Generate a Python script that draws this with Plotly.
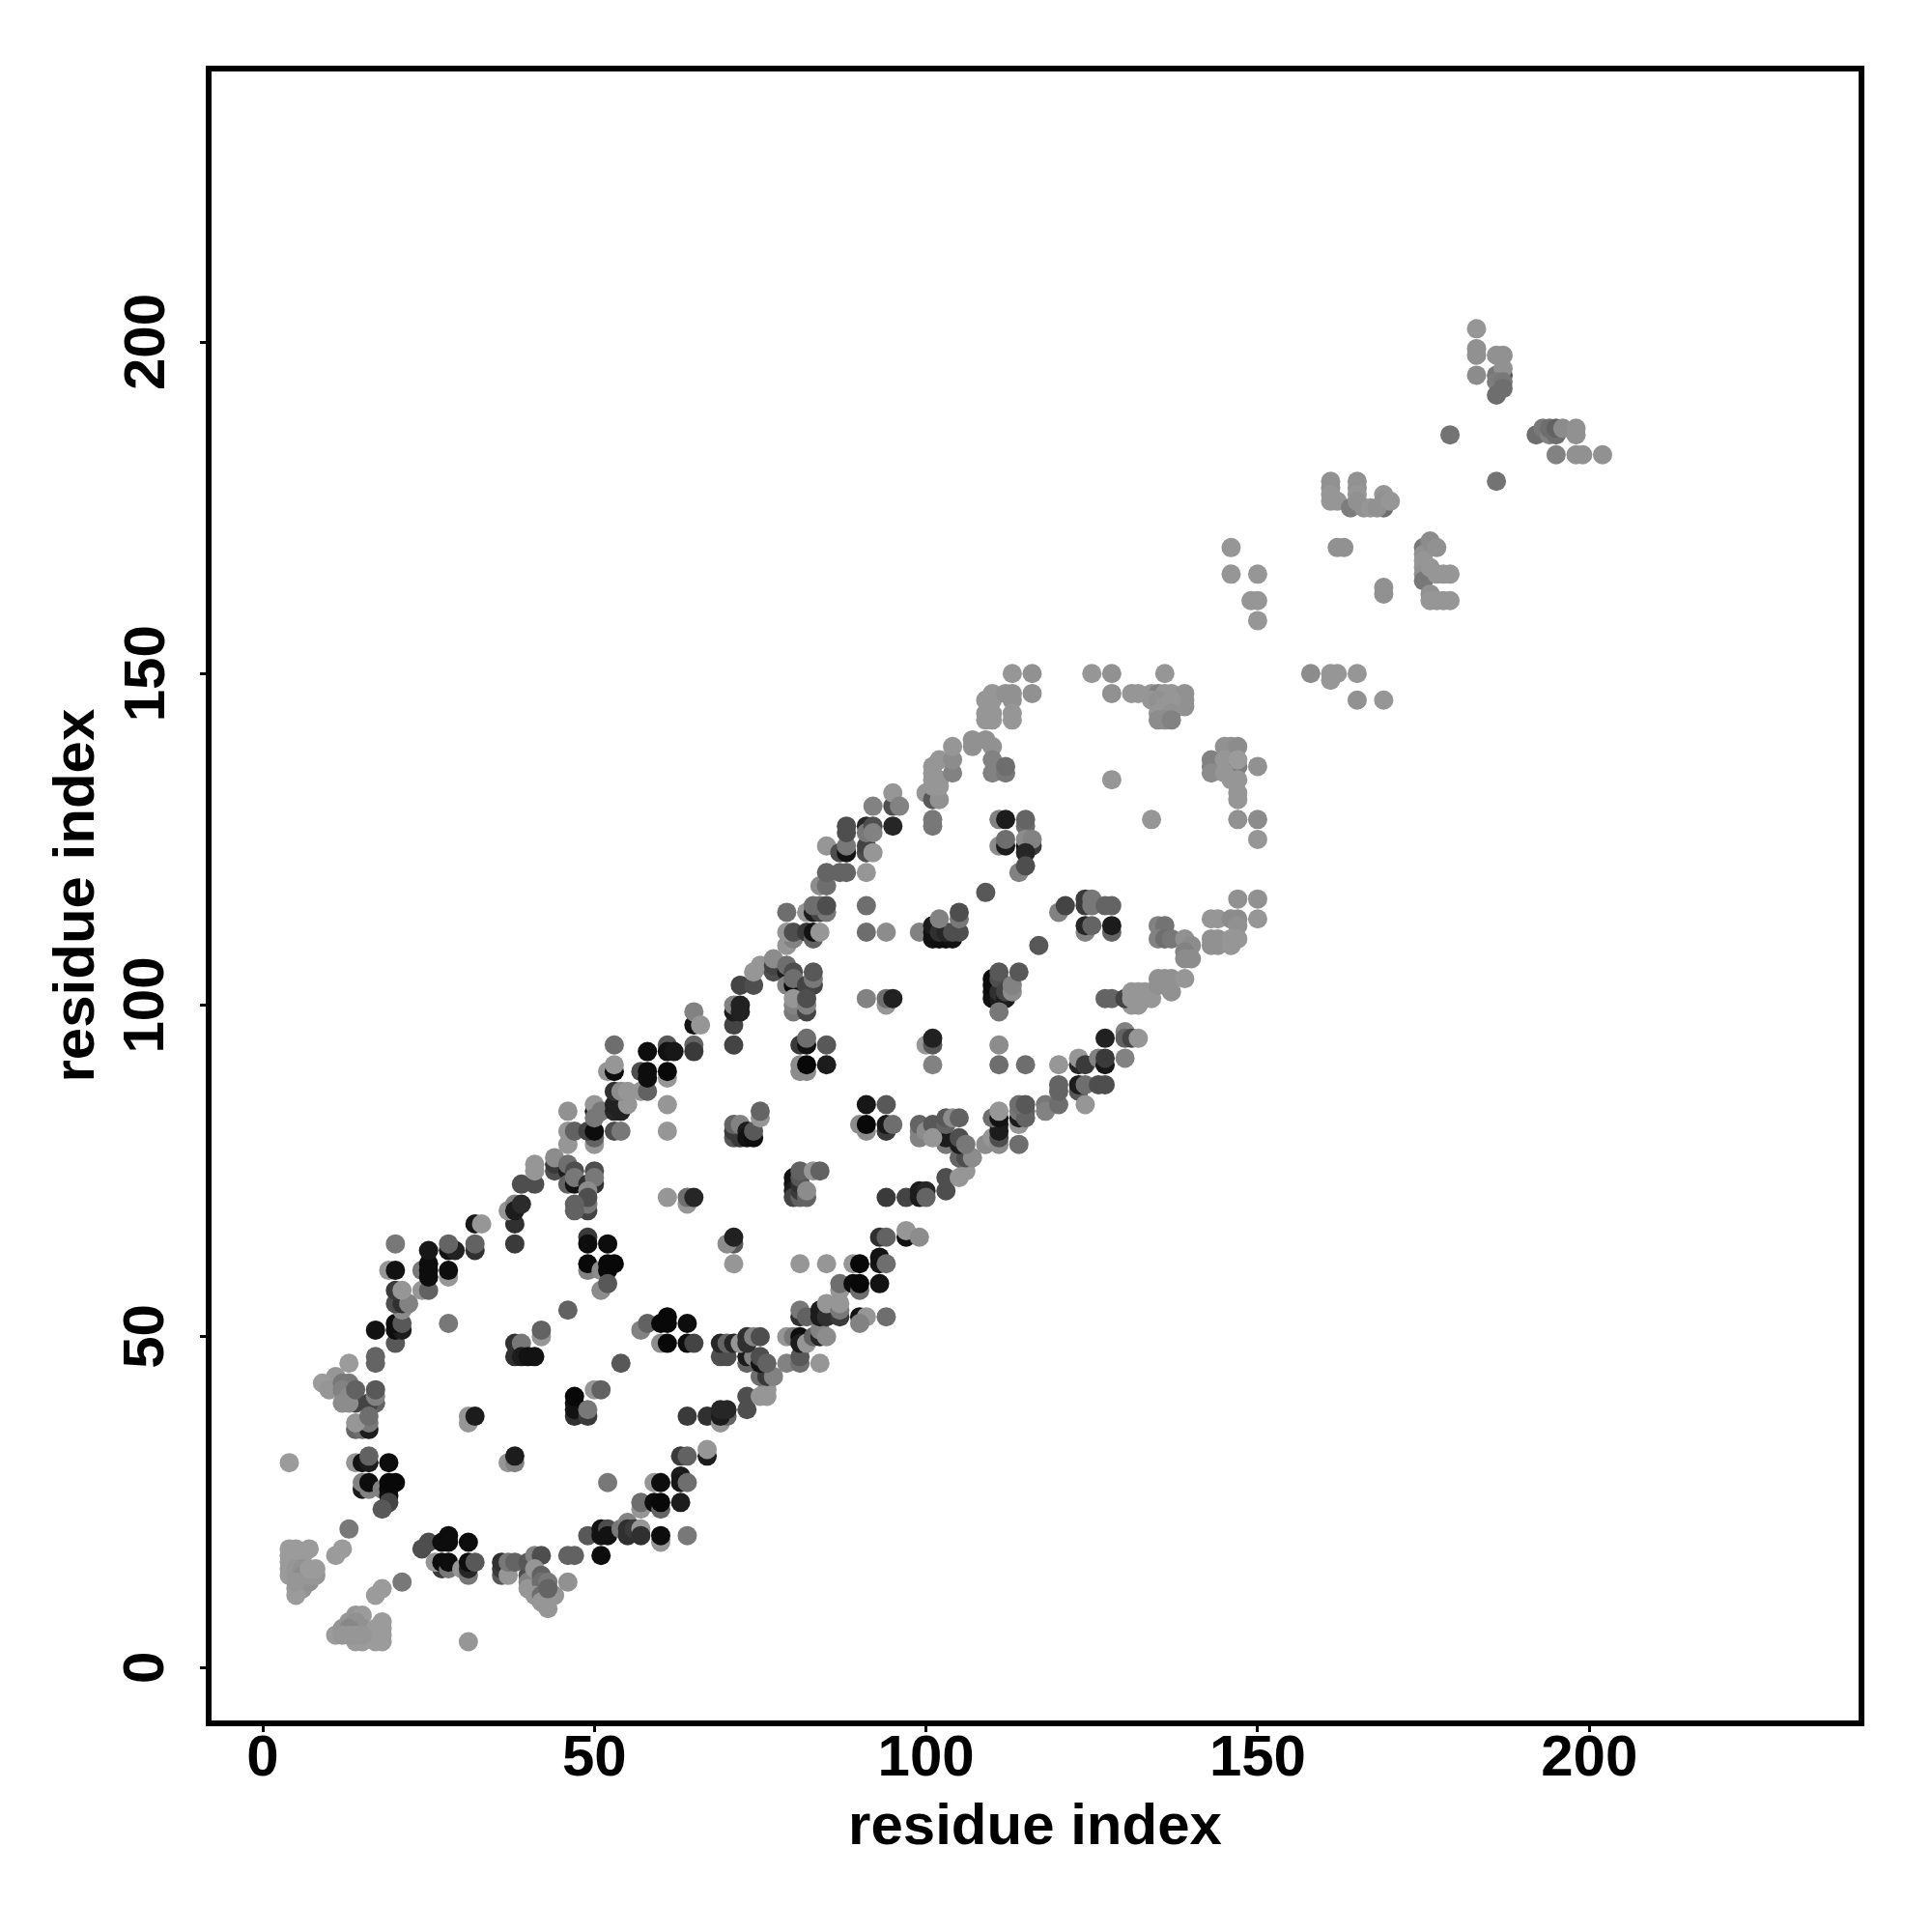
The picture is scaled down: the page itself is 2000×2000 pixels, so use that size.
import plotly.graph_objects as go

# contacts: (residue i, residue j, grey level of the point)
corner_low = [(4,31,155),(4,18,155),(4,17,155),(5,18,155),(6,17,155),(7,18,155),(4,15,155),(4,14,155),(4,16,155),(5,14,150),(5,15,150),(6,15,145),(6,14,140),(6,13,140),(6,12,150),(5,12,155),(5,11,155),(7,13,145),(7,14,150),(8,14,150),(8,15,155),(7,15,155),(5,13,150),
 (11,17,155),(12,18,155),(13,21,120),(17,11,155),(18,12,155),(21,13,120),
 (11,5,155),(12,6,150),(13,7,150),(14,8,150),(15,8,155),(15,4,155),(14,4,155),(15,6,145),(14,6,135),(14,7,145),(13,6,135),(12,5,150),(13,5,150),(18,7,155),(18,6,155),(17,4,155),(18,4,155),(17,5,155),(18,5,155),(17,6,155),(15,5,150),(14,5,150),(31,4,150)]
strand_a = [(24,18,70),(25,19,70),(27,19,5),(28,20,5),(28,19,5),(31,19,5),(27,15,50),(26,16,150),(27,16,5),(28,15,120),(28,16,5),(30,15,150),(31,14,120),(31,15,30),(31,16,5),(32,16,80),
 (36,14,80),(36,15,50),(36,16,40),(37,14,150),(37,16,120),(38,16,100),(40,14,70),(40,13,130),(40,12,150),(40,16,80),(41,17,130),(42,17,70),(41,15,150),(42,14,90),(42,13,110),(43,13,120),(41,11,150),(42,11,110),(42,10,150),(43,9,150),(44,11,150),(43,12,100),(46,13,145),(46,17,90),(47,17,90),(51,17,5),(49,20,80),(51,20,10),(51,21,10),(52,21,70),(52,20,10),
 (54,21,120),(55,22,130),(55,20,40),(55,21,40),(56,21,50),(57,21,150),(57,20,40),(60,19,150),(60,20,5),(64,20,120),(57,24,150),(57,25,110),(59,25,5),(60,24,100),(60,25,0),(63,25,20),(59,28,150),(60,28,5),(63,29,20),(63,28,15),(64,28,110),(63,32,50),(64,32,90),(67,32,20),(67,33,150),
 (64,38,50),(67,38,40),(69,37,150),(70,38,100),(69,38,20),(69,39,30),(70,39,30),(73,39,70),(73,41,70),(75,41,150),(76,41,150),(76,42,150),(75,44,110),(76,44,50),(77,44,130),(73,46,100),(73,47,20),(74,47,130),(75,46,10),(75,47,70),(76,46,90)]
strand_b = [(13,46,155),(17,46,100),(17,47,100),(11,44,150),(9,43,155),(10,42,150),(12,43,120),(13,43,120),(12,42,130),(13,41,140),(14,40,60),(12,40,140),(13,40,140),(14,42,90),(17,40,90),(16,40,60),(17,41,130),(17,42,80),(14,36,100),(15,36,110),(16,36,20),(16,37,120),(14,37,150),(16,38,110),
 (14,31,150),(15,31,10),(16,31,20),(16,32,90),(19,31,5),(15,27,20),(16,27,130),(15,28,130),(16,28,5),(18,27,130),(19,27,0),(19,26,5),(19,28,0),(20,28,0),(19,25,60),(18,24,80),
 (20,49,80),(17,51,10),(20,51,5),(21,51,20),(20,52,5),(21,52,80),(28,52,120),(21,54,140),(20,55,70),(21,55,40),(22,55,130),(20,57,50),(21,57,150),(19,60,150),(20,60,10),(20,64,120),(24,57,150),(25,57,90),(24,60,120),(25,61,5),(25,60,5),(25,59,5),(28,59,150),(28,60,5),(25,63,15),(28,63,10),(29,63,25),(28,64,100),(32,63,40),(32,64,90),(32,67,15),(33,67,150),
 (38,64,50),(38,67,40),(37,69,150),(38,70,130),(38,69,20),(39,70,35),(39,73,70),(41,73,70),(41,75,150),(41,76,150),(44,75,70),(44,76,50),(44,77,140),(46,75,20),(46,76,110),(47,75,70),(46,73,90),(47,73,10),(47,74,120),(50,73,40),(49,73,40),(50,75,70),(50,74,120),(49,72,140),(49,69,60),(49,70,120),(49,71,70),(47,70,90),(47,69,90),
 (46,79,150),(50,79,150),(50,80,90),(46,81,150),(47,81,90),(49,81,60),(50,81,5),(46,84,145),(50,84,10),(50,85,150),(50,83,120),(51,84,120),(53,81,70),(54,81,120),(53,84,30),(54,84,25),(53,85,25),(53,87,40),(55,85,150),(54,87,140),(55,87,150),(57,87,150),(58,87,90),(61,85,150),(61,81,150),
 (53,94,110),(52,90,150),(53,90,5),(53,91,150),(57,90,70),(58,89,5),(58,90,5),(61,89,150),(61,90,0),(58,93,5),(61,94,80),(61,93,10),(62,93,15),(65,94,100),(65,93,50),(65,97,10),(65,99,130),(66,97,150)]
middle_low = [(31,37,150),(31,38,150),(32,38,20),(37,31,150),(38,31,130),(38,32,20),(52,28,120),(47,38,40),(47,39,10),(47,40,10),(47,41,0),(49,38,50),(49,39,120),(50,42,150),(51,42,90),(54,46,80),(46,54,90),(42,50,150),(42,51,90),(38,47,40),(38,49,40),(39,49,120),(39,47,20),(40,47,10),(41,47,10),
 (49,65,50),(49,64,5),(52,64,5),(49,60,130),(49,61,0),(51,60,140),(52,61,0),(52,60,0),(53,61,0),(51,57,140),(52,58,80),
 (57,51,130),(58,52,90),(61,53,0),(60,52,0),(61,52,0),(64,52,5),(60,49,140),(61,49,0),(64,49,5),(65,49,60),(61,71,150),(64,70,150),(64,71,110),(65,71,30),(71,64,80),(70,64,140),(71,65,25),(71,61,150),(81,61,150),(85,61,150),
 (80,74,10),(80,73,10),(80,72,20),(80,71,60),(81,71,90),(81,72,50),(81,73,40),(81,74,80),(81,75,90),(82,71,100),(82,72,140),(83,75,150),(84,75,90)]
strand_c = [(69,47,70),(70,47,70),(69,49,30),(70,49,100),(71,49,30),(72,49,150),(73,50,40),(73,49,40),(74,50,130),(75,50,70),
 (79,46,130),(81,46,110),(81,47,80),(84,46,150),(79,50,150),(80,50,120),(81,50,5),(81,49,20),(82,49,150),(83,50,100),(84,50,30),(84,51,130),(85,50,140),(81,53,40),(81,54,120),(82,53,90),(84,53,20),(84,54,20),(85,53,40),(85,55,150),(87,53,50),(87,54,120),(87,55,150),(90,53,10),(91,53,150),(90,52,130),(94,53,110),
 (87,57,150),(87,58,110),(89,58,5),(90,57,110),(90,58,0),(93,58,10),(89,61,150),(90,61,0),(93,61,15),(93,62,10),(94,61,110),(93,65,40),(94,65,90),(97,65,10),(97,66,150),(99,65,140),
 (94,71,50),(97,71,60),(99,72,20),(99,71,20),(100,72,30),(100,71,100),(103,72,70),(103,74,70),(105,74,150),(106,75,150),(105,77,100),(106,77,70),(107,77,140),(103,79,120),(103,80,20),(105,79,20),(105,80,70),(106,79,120),
 (99,80,130),(99,81,130),(99,82,100),(100,81,140),(101,82,80),(101,80,150),(103,82,100),(103,83,80),(104,83,140),(105,83,90),
 (109,79,140),(110,80,150),(111,79,140),(111,80,70),(111,81,20),(111,82,20),(110,83,110),(111,83,10),(111,84,150),(114,79,110),(114,82,150),(114,83,20),(114,84,120),(115,84,100),(115,83,100),(114,85,110),(115,85,80),(118,85,120),(118,84,130),
 (120,85,110),(120,87,100),(120,88,100),(123,87,80),(123,88,20),(124,88,110),(124,85,150),(126,88,70),(127,88,70),(120,91,150),(123,91,30),(123,92,150),(124,91,50),(126,92,130),(127,91,15),(127,92,50),(130,92,130),(127,95,25),(130,96,130),(130,95,90),(131,95,60),(132,95,150)]
strand_d = [(71,94,60),(71,97,60),(71,99,20),(71,100,130),(72,99,25),(72,100,25),(72,103,60),(74,103,70),(74,105,150),(75,106,150),(77,105,70),(77,106,60),(77,107,140),(79,105,20),(79,106,110),(80,105,70),(79,103,130),(80,103,5),(80,104,110),(83,103,60),(82,103,60),(83,104,120),(83,105,80),
 (80,99,120),(80,100,130),(80,101,150),(82,99,60),(82,100,130),(82,101,70),(81,94,50),(82,94,10),(82,95,110),(85,94,80),(81,90,140),(82,90,140),(81,91,140),(82,91,0),(85,91,20),
 (71,80,80),(72,80,50),(71,81,50),(71,82,100),(72,82,130),(73,81,20),(73,80,10),(74,80,5),(74,81,80),(75,83,150),(75,84,100),
 (91,85,15),(94,85,80),(90,82,140),(91,81,140),(91,82,0),(94,81,50),(94,82,15),(95,82,110),(91,101,130),(94,100,150),(94,101,110),(95,101,25),(91,111,110),(94,111,140),(91,115,110),
 (79,109,150),(80,110,130),(79,111,150),(80,111,70),(82,111,50),(83,110,90),(83,111,10),(84,111,150),(79,114,110),(82,114,150),(83,114,20),(84,114,60),(85,114,120),(83,115,110),(84,115,110),(85,115,70),
 (84,118,140),(85,118,110),(85,120,100),(87,120,100),(88,120,100),(91,120,150),(85,124,150),(87,123,70),(88,123,10),(88,124,120),(91,123,70),(91,124,60),(92,123,150),(88,126,70),(88,127,70),(91,127,30),(91,126,120),(92,127,70),(92,126,130),(95,127,30),(92,130,130),(95,130,70),(95,132,150),(96,130,130)]
upper_mid = [(100,132,150),(101,131,80),(102,131,145),(101,133,150),(102,133,150),(101,134,150),(102,134,150),(101,135,150),(101,136,150),(102,137,150),(104,135,130),(104,137,140),(104,139,150),(107,139,145),(107,140,145),(109,140,145),(110,139,145),(110,135,130),(110,137,130),(112,135,120),(112,136,110),
 (109,143,150),(110,143,150),(109,144,150),(110,144,150),(109,146,150),(110,146,150),(110,147,150),(112,147,145),(113,147,145),(113,146,145),(113,143,150),(113,144,150),(113,150,150),(116,150,145),(116,147,145),
 (101,127,120),(101,128,120),(111,128,130),(112,128,20),(115,127,110),(115,128,100),(111,124,140),(112,124,20),(112,125,110),(115,124,10),(116,124,50),(115,125,140),(116,125,130),(115,123,30),(114,120,130),(115,121,70),(109,117,80),
 (99,111,130),(100,111,130),(101,110,10),(102,110,5),(103,110,5),(104,110,10),(101,111,10),(101,112,20),(102,111,40),(103,111,30),(104,111,70),(105,111,70),(102,113,130),(105,113,120),(105,114,70),
 (117,109,80),(120,114,130),(121,115,60),(124,115,50),(124,116,50),(125,116,120),(125,115,120),(127,115,100),(128,115,100),(124,111,130),(124,112,30),(125,112,100),(128,111,100),(128,112,20),
 (110,101,10),(110,102,10),(110,103,5),(110,104,5),(111,101,20),(111,102,40),(111,104,70),(111,105,80),(112,101,20),(112,102,60),(113,102,140),(113,103,130),(114,105,80),(111,99,120),
 (100,94,150),(101,94,80),(101,95,25),(101,91,130),(111,94,140),(111,91,110),(115,91,110),(127,101,100),(128,101,100)]
upper_right = [(125,150,150),(128,150,145),(136,150,150),(128,147,145),(131,147,150),(132,147,150),(134,147,150),(135,147,130),(136,147,150),(137,147,150),(139,147,145),(139,146,145),(139,145,145),(134,146,150),(135,146,145),(137,146,150),(136,145,150),(135,144,150),(136,144,150),(137,144,145),(135,143,140),(136,143,140),(137,143,130),(128,134,150),(134,128,150),
 (145,139,145),(146,139,145),(147,139,140),(143,137,130),(143,136,130),(143,135,140),(145,137,150),(146,136,150),(147,136,125),(147,137,155),(145,135,150),(146,134,150),(147,134,150),(150,136,145),(147,132,150),(147,131,150),(147,128,145),(150,128,140),(150,125,150),
 (147,116,145),(150,116,145),(150,113,150),(143,113,150),(144,113,150),(146,113,140),(147,113,140),(147,112,145),(143,110,145),(144,110,145),(143,109,145),(144,109,145),(146,110,150),(146,109,150),(147,110,150),
 (135,112,130),(136,112,115),(135,110,130),(136,110,110),(137,110,120),(139,110,145),(140,109,140),(139,108,130),(139,107,140),(140,107,140),
 (131,100,150),(132,100,150),(130,101,60),(131,101,150),(131,102,150),(132,101,150),(132,102,150),(133,101,150),(133,102,150),(134,101,150),(135,103,145),(136,103,145),(135,104,145),(136,104,145),(137,102,145),(137,104,145),(139,104,150),
 (146,169,150),(146,165,150),(150,165,150),(149,161,150),(150,161,150),(150,158,150)]
far_end = [(158,150,140),(161,150,150),(162,150,150),(161,149,150),(165,150,150),(165,146,145),(169,146,150),
 (161,179,145),(161,178,145),(161,177,150),(161,176,150),(162,176,150),(165,179,145),(165,178,145),(165,177,150),(164,175,125),(165,176,145),(166,175,145),(167,175,150),(169,175,110),(168,175,145),(169,177,150),(169,176,145),(170,176,150),
 (162,169,145),(163,169,145),(175,169,120),(175,168,145),(175,167,150),(175,166,150),(175,165,145),(175,164,120),(176,170,140),(177,169,145),(176,166,150),(177,165,150),(178,165,150),(179,165,150),(176,162,145),(176,161,150),(177,161,150),(178,161,150),(179,161,150),(169,163,145),(169,162,145),
 (183,202,150),(183,199,145),(183,198,145),(183,195,140),(186,198,145),(187,198,145),(186,195,120),(187,195,70),(187,196,145),(186,194,125),(187,194,120),(187,193,110),(186,192,110),
 (179,186,115),(186,179,115),(192,186,110),(193,187,120),(194,186,130),(194,187,110),(195,186,110),(195,187,90),(196,187,140),(198,186,145),(198,187,145),(195,183,130),(198,183,145),(199,183,145),(202,183,145)]

tick_values = [0, 50, 100, 150, 200]
tick_labels = ["0", "50", "100", "150", "200"]
axis_title = "residue index"

contacts = corner_low + strand_a + strand_b + middle_low + strand_c + strand_d + upper_mid + upper_right + far_end
xs = [c[0] for c in contacts]
ys = [c[1] for c in contacts]
cols = [f"rgb({c[2]+8},{c[2]+8},{c[2]+8})" if c[2] < 100 else f"rgb({c[2]},{c[2]},{c[2]})" for c in contacts]

fig = go.Figure(go.Scatter(x=xs, y=ys, mode="markers",
                           marker=dict(size=20, color=cols, line=dict(width=0)),
                           hoverinfo="skip", showlegend=False))
font = dict(family="Liberation Sans", size=60, color="black", weight=700)
axis = dict(tickmode="array", tickvals=tick_values, ticktext=tick_labels, ticks="outside",
            ticklen=6, tickwidth=3, tickcolor="black", showline=True, mirror=True,
            linecolor="black", linewidth=6, showgrid=False, zeroline=False, tickfont=font)
fig.update_layout(width=2000, height=2000, autosize=False, plot_bgcolor="white", paper_bgcolor="white",
                  margin=dict(l=211, r=84, t=66, b=227))
fig.update_xaxes(range=[-7.72, 240.6], ticklabelstandoff=-27, title=dict(text=axis_title, font=font, standoff=19), **axis)
fig.update_yaxes(range=[-7.87, 240.8], showticklabels=False, **axis)
for v, t in zip(tick_values, tick_labels):
    fig.add_annotation(text=t, xref="paper", yref="y", x=0, y=v, xshift=-70, xanchor="center", yanchor="middle",
                       textangle=-90, showarrow=False, font=font)
fig.add_annotation(text=axis_title, xref="paper", yref="paper", x=0, y=0.5, xshift=-143, xanchor="center", yanchor="middle",
                   textangle=-90, showarrow=False, font=font)
fig.write_html("out.html")
